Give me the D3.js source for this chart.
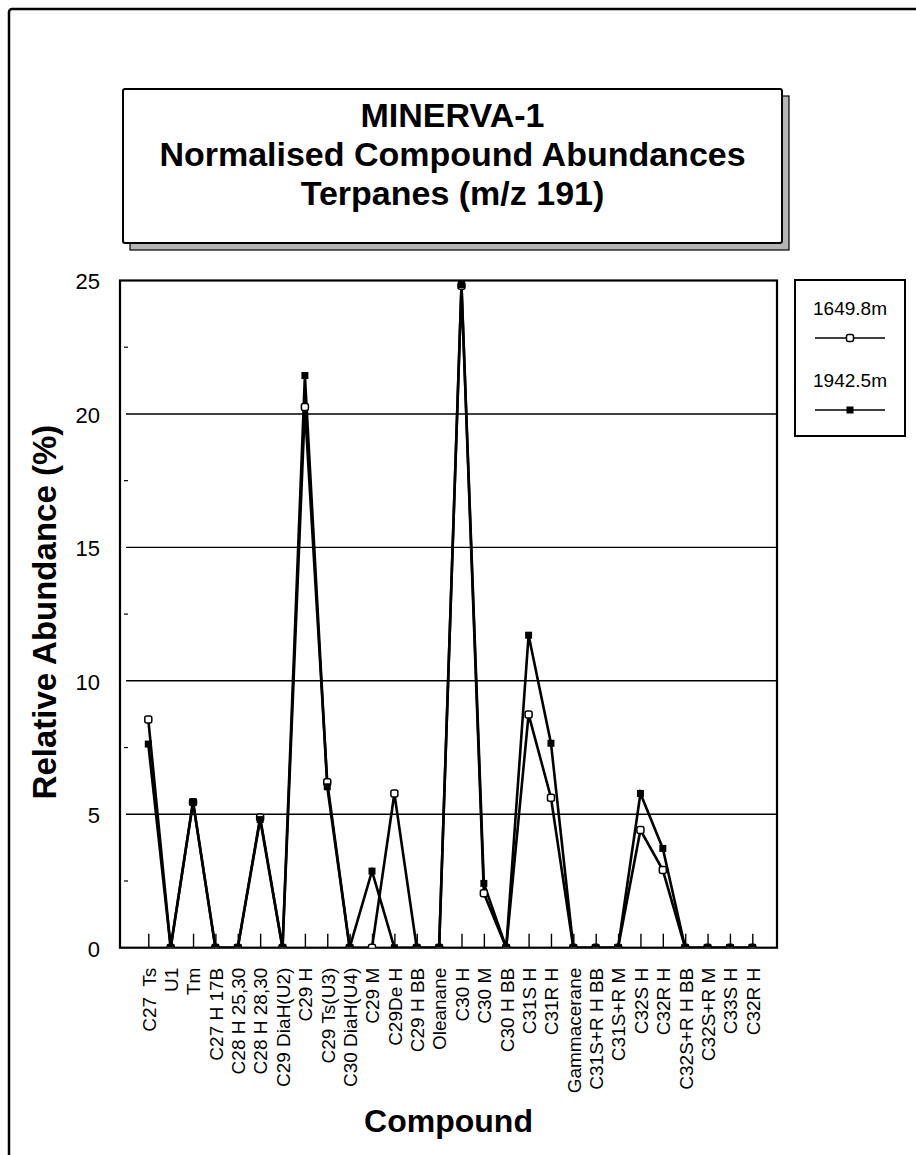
<!DOCTYPE html>
<html>
<head>
<meta charset="utf-8">
<script src="https://cdn.jsdelivr.net/npm/d3@7"></script>
<style>
  html, body { margin: 0; padding: 0; background: #fff; }
  svg { display: block; }
  text { font-family: "Liberation Sans", Arial, Helvetica, sans-serif; fill: #000; }
</style>
</head>
<body>
<svg id="chart" width="916" height="1155"></svg>
<script>
// ---------------- data ----------------
const titleLines = ["MINERVA-1", "Normalised Compound Abundances", "Terpanes (m/z 191)"];
const categories = ["C27  Ts","U1","Tm","C27 H 17B","C28 H 25,30","C28 H 28,30","C29 DiaH(U2)","C29 H",
  "C29 Ts(U3)","C30 DiaH(U4)","C29 M","C29De H","C29 H BB","Oleanane","C30 H","C30 M","C30 H BB",
  "C31S H","C31R H","Gammacerane","C31S+R H BB","C31S+R M","C32S H","C32R H","C32S+R H BB",
  "C32S+R M","C33S H","C32R H"];
const seriesNames = ["1649.8m", "1942.5m"];
const values1649 = [8.55,0,5.45,0,0,4.88,0,20.26,6.2,0,0,5.78,0,0,24.8,2.04,0,8.74,5.62,0,0,0,4.41,2.91,0,0,0,0];
const values1942 = [7.63,0,5.47,0,0,4.8,0,21.44,6.03,0,2.87,0,0,0,24.85,2.41,0,11.71,7.66,0,0,0,5.78,3.72,0,0,0,0];
const yTicks = [0,5,10,15,20,25];
const yMinorTicks = [2.5,7.5,12.5,17.5,22.5];
const yLabel = "Relative Abundance (%)";
const xLabel = "Compound";

// ---------------- layout ----------------
const svg = d3.select("#chart");
const P = {left: 120, right: 777, top: 280.5, bottom: 947.7};

// outer frame (extends past the page edges on right and bottom)
svg.append("rect").attr("x", 9).attr("y", 9).attr("width", 1000).attr("height", 1300)
  .attr("rx", 3).attr("fill", "none").attr("stroke", "#000").attr("stroke-width", 2.5);

// title box with shadow
const TB = {x: 123, y: 89, w: 659, h: 154};
svg.append("rect").attr("x", TB.x + 7).attr("y", TB.y + 7).attr("width", TB.w).attr("height", TB.h)
  .attr("fill", "#b5b5b5").attr("stroke", "#000").attr("stroke-width", 1.2);
svg.append("rect").attr("x", TB.x).attr("y", TB.y).attr("width", TB.w).attr("height", TB.h)
  .attr("rx", 2).attr("fill", "#fff").attr("stroke", "#000").attr("stroke-width", 2);
const tcx = TB.x + TB.w / 2;
const titleBaselines = [127, 166, 205];
titleLines.forEach((t, i) => {
  svg.append("text").attr("x", tcx).attr("y", titleBaselines[i])
    .attr("text-anchor", "middle").attr("font-size", 34)
    .attr("font-weight", "bold").text(t);
});

// scales
const x = d3.scalePoint().domain(d3.range(categories.length)).range([148.3, 752.3]);
const y = d3.scaleLinear().domain([0, 25]).range([P.bottom, P.top]);

// gridlines
svg.append("g").selectAll("line").data(yTicks.filter(d => d > 0 && d < 25)).join("line")
  .attr("x1", P.left + 6).attr("x2", P.right).attr("y1", d => y(d)).attr("y2", d => y(d))
  .attr("stroke", "#000").attr("stroke-width", 1.4);
// minor ticks
svg.append("g").selectAll("line").data(yMinorTicks).join("line")
  .attr("x1", P.left + 4).attr("x2", P.left + 8).attr("y1", d => y(d)).attr("y2", d => y(d))
  .attr("stroke", "#000").attr("stroke-width", 1.2);

// y axis labels via d3 axis
const yAxis = d3.axisLeft(y).tickValues(yTicks).tickSize(0).tickPadding(20);
const gy = svg.append("g").attr("transform", `translate(${P.left},0)`).call(yAxis);
gy.select(".domain").remove();
gy.selectAll("text").attr("font-size", 22).attr("font-family", "Liberation Sans, Arial, sans-serif")
  .attr("dy", "0.38em");

// x axis ticks (inward) and labels
const xAxis = d3.axisBottom(x).tickSize(-14).tickPadding(0).tickFormat(i => categories[i]);
const gx = svg.append("g").attr("transform", `translate(0,${P.bottom})`).call(xAxis);
gx.select(".domain").remove();
gx.selectAll("line").attr("stroke-width", 1.4);
gx.selectAll("text")
  .attr("font-size", 19).attr("font-family", "Liberation Sans, Arial, sans-serif")
  .attr("transform", "rotate(-90)")
  .attr("x", -20).attr("y", 0).attr("dy", "0.36em")
  .attr("text-anchor", "end").style("white-space", "pre");

// plot border
svg.append("rect").attr("x", P.left).attr("y", P.top).attr("width", P.right - P.left).attr("height", P.bottom - P.top)
  .attr("fill", "none").attr("stroke", "#000").attr("stroke-width", 2.2);

// data
svg.append("defs").append("clipPath").attr("id", "plotclip").append("rect")
  .attr("x", P.left).attr("y", P.top - 6).attr("width", P.right - P.left).attr("height", P.bottom - P.top + 6);
const dg = svg.append("g").attr("clip-path", "url(#plotclip)");
const line = d3.line().x((d, i) => x(i)).y(d => y(d));
[values1649, values1942].forEach(vals => {
  dg.append("path").datum(vals).attr("d", line).attr("fill", "none")
    .attr("stroke", "#000").attr("stroke-width", 2.6).attr("stroke-linejoin", "miter");
});
const ms = 7;
dg.append("g").selectAll("rect").data(values1649).join("rect")
  .attr("x", (d, i) => x(i) - ms / 2).attr("y", d => y(d) - ms / 2).attr("width", ms).attr("height", ms)
  .attr("rx", 2).attr("fill", "#fff").attr("stroke", "#000").attr("stroke-width", 1.5);
dg.append("g").selectAll("rect").data(values1942).join("rect")
  .attr("x", (d, i) => x(i) - ms / 2).attr("y", d => y(d) - ms / 2).attr("width", ms).attr("height", ms)
  .attr("fill", "#000");

// axis titles
svg.append("text").attr("transform", `translate(56,${(P.top + P.bottom) / 2 - 2}) rotate(-90)`)
  .attr("text-anchor", "middle").attr("font-size", 33).attr("font-weight", "bold").text(yLabel);
svg.append("text").attr("x", (P.left + P.right) / 2).attr("y", 1132)
  .attr("text-anchor", "middle").attr("font-size", 32).attr("font-weight", "bold").text(xLabel);

// legend
const L = {x: 795, y: 280, w: 110, h: 156};
svg.append("rect").attr("x", L.x).attr("y", L.y).attr("width", L.w).attr("height", L.h)
  .attr("fill", "#fff").attr("stroke", "#000").attr("stroke-width", 2);
const lcx = L.x + L.w / 2;
seriesNames.forEach((name, i) => {
  const ty = L.y + 28 + i * 72;
  svg.append("text").attr("x", lcx).attr("y", ty).attr("dy", "0.36em").attr("text-anchor", "middle")
    .attr("font-size", 19).text(name);
  const ly = ty + 30;
  svg.append("line").attr("x1", L.x + 20).attr("x2", L.x + 90).attr("y1", ly).attr("y2", ly)
    .attr("stroke", "#000").attr("stroke-width", 1.5);
  const m = svg.append("rect").attr("x", lcx - 3.5).attr("y", ly - 3.5).attr("width", 7).attr("height", 7);
  if (i === 0) m.attr("rx", 2).attr("fill", "#fff").attr("stroke", "#000").attr("stroke-width", 1.5);
  else m.attr("fill", "#000");
});
</script>
</body>
</html>
